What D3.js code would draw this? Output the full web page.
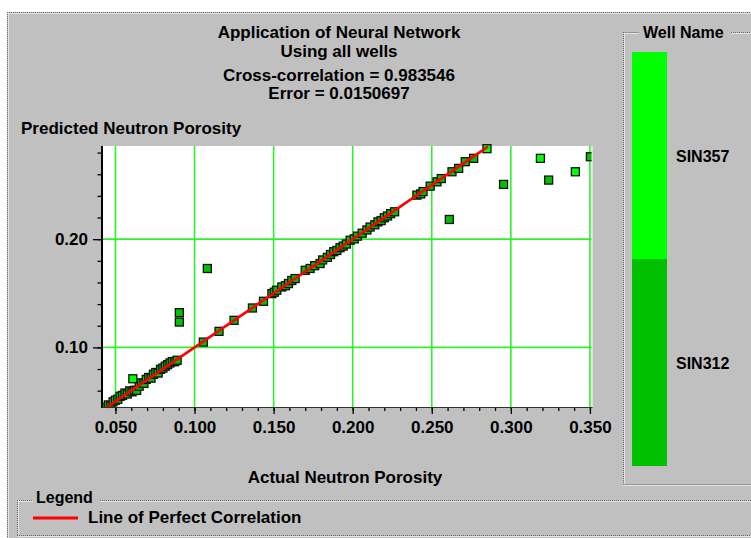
<!DOCTYPE html>
<html>
<head>
<meta charset="utf-8">
<script src="https://cdn.jsdelivr.net/npm/d3@7"></script>
<style>
  html, body { margin: 0; padding: 0; background: #ffffff; }
  svg { display: block; font-family: "Liberation Sans", Arial, Helvetica, sans-serif; font-weight: bold; }
</style>
</head>
<body>
<svg id="chart" width="751" height="538"></svg>
<script>
// ---- chart text ----
const titleLines = [
  "Application of Neural Network",
  "Using all wells",
  "Cross-correlation = 0.983546",
  "Error = 0.0150697"
];
const yAxisTitle = "Predicted Neutron Porosity";
const xAxisTitle = "Actual Neutron Porosity";
const legendTitle = "Legend";
const legendEntry = "Line of Perfect Correlation";
const wellPanelTitle = "Well Name";

// ---- wells ----
const wellNames = ["SIN357", "SIN312"];
const wellColors = ["#00ff00", "#00c000"];

// ---- SIN312 samples: actual vs predicted porosity ----
const sin312Actual = [
  0.0440, 0.0455, 0.0470, 0.0485, 0.0500, 0.0515, 0.0530, 0.0545, 0.0560, 0.0575,
  0.0590, 0.0605, 0.0620, 0.0634, 0.0650, 0.0665, 0.0680, 0.0695, 0.0710, 0.0725,
  0.0740, 0.0755, 0.0770, 0.0785, 0.0800, 0.0815, 0.0830, 0.0845, 0.0860, 0.0875,
  0.0890, 0.0904, 0.0904, 0.1081,
  0.1056, 0.1155, 0.1250, 0.1366, 0.1436, 0.1489, 0.1505, 0.1520, 0.1552, 0.1575,
  0.1594, 0.1615, 0.1636, 0.1700, 0.1731, 0.1760, 0.1794, 0.1810, 0.1840, 0.1860,
  0.1880, 0.1900, 0.1920, 0.1940, 0.1960, 0.1984, 0.2010, 0.2030, 0.2060, 0.2090,
  0.2110, 0.2140, 0.2160, 0.2180, 0.2200, 0.2220, 0.2240, 0.2265,
  0.2406, 0.2430, 0.2445, 0.2490, 0.2533, 0.2560, 0.2628, 0.2670, 0.2712, 0.2765,
  0.2611, 0.2954, 0.3239, 0.3503
];
const sin312Predicted = [
  0.0445, 0.0468, 0.0462, 0.0497, 0.0512, 0.0521, 0.0548, 0.0556, 0.0578, 0.0569,
  0.0598, 0.0589, 0.0603, 0.0602, 0.0641, 0.0672, 0.0667, 0.0704, 0.0722, 0.0716,
  0.0751, 0.0768, 0.0763, 0.0797, 0.0808, 0.0826, 0.0840, 0.0856, 0.0869, 0.0868,
  0.0881, 0.1321, 0.1234, 0.1729,
  0.1049, 0.1148, 0.1250, 0.1364, 0.1426, 0.1497, 0.1510, 0.1528, 0.1558, 0.1570,
  0.1590, 0.1618, 0.1636, 0.1712, 0.1729, 0.1755, 0.1775, 0.1808, 0.1832, 0.1858,
  0.1884, 0.1896, 0.1921, 0.1936, 0.1955, 0.1990, 0.2003, 0.2028, 0.2055, 0.2085,
  0.2112, 0.2133, 0.2160, 0.2172, 0.2198, 0.2214, 0.2236, 0.2253,
  0.2407, 0.2418, 0.2440, 0.2490, 0.2530, 0.2560, 0.2623, 0.2654, 0.2716, 0.2747,
  0.2182, 0.2506, 0.2546, 0.2762
];

// ---- SIN357 samples ----
const sin357Actual = [0.0610, 0.2849, 0.3187, 0.3408];
const sin357Predicted = [0.0710, 0.2836, 0.2747, 0.2623];

// ---- axes ----
const xTickLabels = [0.05, 0.10, 0.15, 0.20, 0.25, 0.30, 0.35];
const yTickLabels = [0.10, 0.20];
const xMinorTicks = d3.range(5, 36).map(i => i / 100);
const yMinorTicks = d3.range(3, 15).map(i => i * 2 / 100);
const xDomain = [0.0415, 0.3510];
const yDomain = [0.0449, 0.2861];
const perfectRange = [0.0445, 0.2855];

const svg = d3.select("#chart");
const GRAY = "#c0c0c0";

// ---- window panel ----
svg.append("rect").attr("x", 7).attr("y", 12).attr("width", 744).attr("height", 526).attr("fill", GRAY);

function etched(x1, y1, x2, y2) {
  const horiz = y1 === y2;
  svg.append("line")
    .attr("x1", x1).attr("y1", y1).attr("x2", x2).attr("y2", y2)
    .attr("stroke", "#5e6e78").attr("stroke-width", 1).attr("stroke-dasharray", "1 1");
  svg.append("line")
    .attr("x1", horiz ? x1 : x1 + 1).attr("y1", horiz ? y1 + 1 : y1)
    .attr("x2", horiz ? x2 : x2 + 1).attr("y2", horiz ? y2 + 1 : y2)
    .attr("stroke", "#e4e4e4").attr("stroke-width", 1);
}
// outer border
etched(7, 12.5, 751, 12.5);
etched(7.5, 12, 7.5, 538);

// ---- plot area ----
const x = d3.scaleLinear().domain(xDomain).range([102, 591.5]);
const y = d3.scaleLinear().domain(yDomain).range([407, 146]);

svg.append("rect")
  .attr("x", x(xDomain[0])).attr("y", y(yDomain[1]))
  .attr("width", x(xDomain[1]) - x(xDomain[0]))
  .attr("height", y(yDomain[0]) - y(yDomain[1]))
  .attr("fill", "#ffffff");
svg.append("line")
  .attr("x1", x(xDomain[1]) + 0.5).attr("x2", x(xDomain[1]) + 0.5)
  .attr("y1", y(yDomain[1])).attr("y2", y(yDomain[0]))
  .attr("stroke", "#e8e8e8").attr("stroke-width", 1.5);

// grid
const grid = svg.append("g").attr("stroke", "#2ef02e").attr("stroke-width", 1.6);
grid.selectAll(".vx").data(xTickLabels).join("line")
  .attr("x1", d => x(d)).attr("x2", d => x(d))
  .attr("y1", y(yDomain[1])).attr("y2", y(yDomain[0]));
grid.selectAll(".hy").data(yTickLabels).join("line")
  .attr("x1", x(xDomain[0])).attr("x2", x(xDomain[1]))
  .attr("y1", d => y(d)).attr("y2", d => y(d));

// points
const points = [];
sin312Actual.forEach((a, i) => points.push({ well: 1, a, p: sin312Predicted[i] }));
sin357Actual.forEach((a, i) => points.push({ well: 0, a, p: sin357Predicted[i] }));

const plotClip = svg.append("clipPath").attr("id", "plotClip").append("rect")
  .attr("x", x(xDomain[0])).attr("y", y(yDomain[1]) - 6)
  .attr("width", x(xDomain[1]) - x(xDomain[0]))
  .attr("height", y(yDomain[0]) - y(yDomain[1]) + 6);

const S = 8;
svg.append("g").attr("clip-path", "url(#plotClip)")
  .selectAll("rect").data(points).join("rect")
  .attr("x", d => x(d.a) - S / 2).attr("y", d => y(d.p) - S / 2)
  .attr("width", S).attr("height", S)
  .attr("fill", d => wellColors[d.well])
  .attr("stroke", "#101010").attr("stroke-width", 1.3);

// line of perfect correlation
svg.append("path")
  .datum(perfectRange)
  .attr("d", d3.line().x(d => x(d)).y(d => y(d)))
  .attr("stroke", "#ff0000").attr("stroke-width", 2.6).attr("fill", "none");

// axes
const xAxisG = svg.append("g").attr("transform", `translate(0,${y(yDomain[0])})`);
xAxisG.call(d3.axisBottom(x).tickValues(xMinorTicks).tickSize(4).tickFormat(""));
xAxisG.call(g => g.select(".domain").remove());
const xMajor = svg.append("g").attr("transform", `translate(0,${y(yDomain[0])})`)
  .call(d3.axisBottom(x).tickValues(xTickLabels).tickSize(7).tickPadding(7).tickFormat(d3.format(".3f")));
xMajor.select(".domain").remove();

const yAxisG = svg.append("g").attr("transform", `translate(${x(xDomain[0])},0)`);
yAxisG.call(d3.axisLeft(y).tickValues(yMinorTicks).tickSize(4.5).tickFormat(""));
yAxisG.call(g => g.select(".domain").remove());
const yMajor = svg.append("g").attr("transform", `translate(${x(xDomain[0])},0)`)
  .call(d3.axisLeft(y).tickValues(yTickLabels).tickSize(9).tickPadding(5).tickFormat(d3.format(".2f")));
yMajor.select(".domain").remove();

svg.selectAll(".tick line").attr("stroke", "#000").attr("stroke-width", 1.3);
svg.selectAll(".tick text")
  .attr("fill", "#000")
  .style("font-family", "'Liberation Sans', Arial, sans-serif")
  .style("font-weight", "bold").style("font-size", "17px");

// axis lines
svg.append("line")
  .attr("x1", x(xDomain[0])).attr("x2", x(xDomain[0]))
  .attr("y1", y(yDomain[1])).attr("y2", y(yDomain[0]) + 1)
  .attr("stroke", "#000").attr("stroke-width", 2);
svg.append("line")
  .attr("x1", x(xDomain[0])).attr("x2", x(xDomain[1]) + 1)
  .attr("y1", y(yDomain[0]) + 0.5).attr("y2", y(yDomain[0]) + 0.5)
  .attr("stroke", "#303030").attr("stroke-width", 1.2);

// titles
const titleBaselines = [38, 57, 81, 99];
svg.selectAll(".title").data(titleLines).join("text")
  .attr("x", 339).attr("y", (d, i) => titleBaselines[i])
  .attr("text-anchor", "middle").attr("font-size", 17).attr("fill", "#000")
  .text(d => d);

svg.append("text").attr("x", 21).attr("y", 134).attr("font-size", 17).attr("fill", "#000").text(yAxisTitle);
svg.append("text").attr("x", 345).attr("y", 483).attr("text-anchor", "middle")
  .attr("font-size", 17).attr("fill", "#000").text(xAxisTitle);

// ---- well name panel ----
etched(623.5, 32, 623.5, 484);
etched(623.5, 484.5, 751, 484.5);
etched(623.5, 32.5, 639, 32.5);
etched(731, 32.5, 751, 32.5);
svg.append("text").attr("x", 643).attr("y", 38).attr("font-size", 16).attr("fill", "#000").text(wellPanelTitle);

const band = d3.scaleBand().domain(wellNames).range([52, 466]);
svg.selectAll(".wellbar").data(wellNames).join("rect")
  .attr("x", 632).attr("width", 35)
  .attr("y", d => band(d)).attr("height", band.bandwidth())
  .attr("fill", (d, i) => wellColors[i]);
svg.selectAll(".welllabel").data(wellNames).join("text")
  .attr("x", 676).attr("y", d => band(d) + band.bandwidth() / 2 + 6)
  .attr("font-size", 16).attr("fill", "#000").text(d => d);

// ---- legend ----
etched(17, 500.5, 33, 500.5);
etched(100, 500.5, 751, 500.5);
etched(17.5, 500, 17.5, 535);
etched(17, 535.5, 751, 535.5);
svg.append("text").attr("x", 36).attr("y", 503).attr("font-size", 16).attr("fill", "#000").text(legendTitle);
svg.append("line").attr("x1", 33).attr("x2", 78).attr("y1", 518).attr("y2", 518)
  .attr("stroke", "#ff0000").attr("stroke-width", 2.8);
svg.append("text").attr("x", 88).attr("y", 523).attr("font-size", 17).attr("fill", "#000").text(legendEntry);
</script>
</body>
</html>
